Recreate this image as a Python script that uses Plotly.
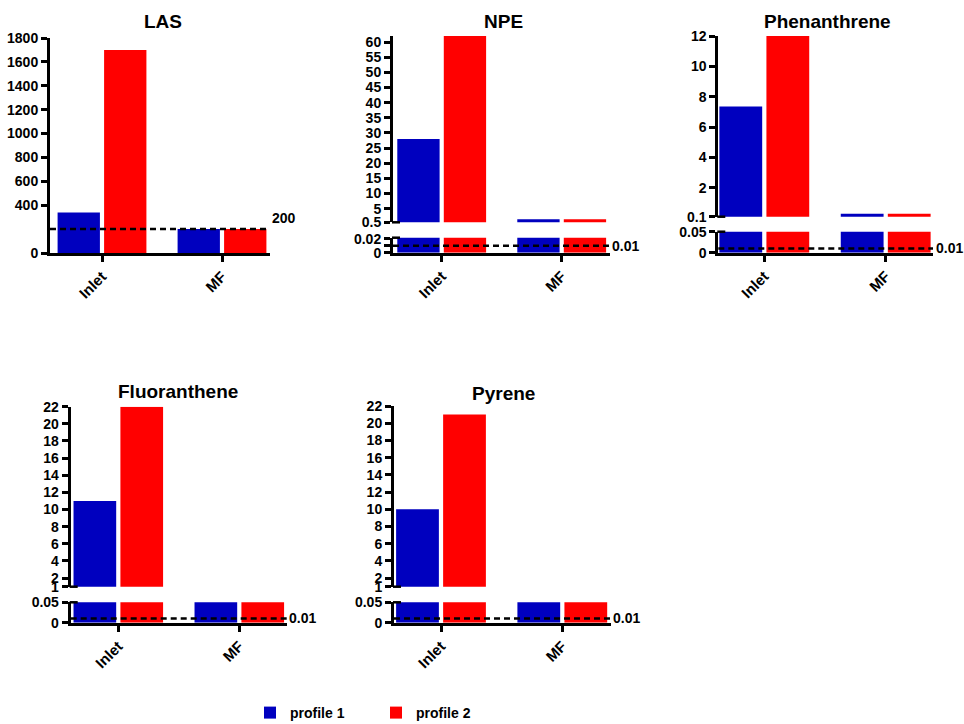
import plotly.graph_objects as go

W, H = 964, 724

# ---------------- data ----------------
categories = ["Inlet", "MF"]
series_names = ["profile 1", "profile 2"]
series_colors = ["#0000BF", "#FF0000"]

las_profile1 = [340, 200]
las_profile2 = [1700, 200]
npe_profile1 = [28, 1.5]
npe_profile2 = [62, 1.5]
phe_profile1 = [7.35, 0.3]
phe_profile2 = [12, 0.3]
flu_profile1 = [11, 0.5]
flu_profile2 = [22, 0.5]
pyr_profile1 = [10, 0.5]
pyr_profile2 = [21, 0.5]

titles = ["LAS", "NPE", "Phenanthrene", "Fluoranthene", "Pyrene"]
thresholds = [200, 0.01, 0.01, 0.01, 0.01]
threshold_labels = ["200", "0.01", "0.01", "0.01", "0.01"]

las_ticks = [0, 400, 600, 800, 1000, 1200, 1400, 1600, 1800]
npe_upper_ticks = [0.5, 5, 10, 15, 20, 25, 30, 35, 40, 45, 50, 55, 60]
npe_lower_ticks = [0, 0.01, 0.02]
npe_lower_labels = ["0", "", "0.02"]
phe_upper_ticks = [0.1, 2, 4, 6, 8, 10, 12]
phe_lower_ticks = [0, 0.05]
flu_upper_ticks = [1, 2, 4, 6, 8, 10, 12, 14, 16, 18, 20, 22]
flu_lower_ticks = [0, 0.05]
pyr_upper_ticks = [1, 2, 4, 6, 8, 10, 12, 14, 16, 18, 20, 22]
pyr_lower_ticks = [0, 0.05]

# ---------------- layout geometry (pixels) ----------------
panels = [
    dict(p1=las_profile1, p2=las_profile2, xl=50, xr=270, xt=(102, 222),
         lower=(38, 253), lower_range=[0, 1800], lower_ticks=las_ticks, lower_text=None,
         upper=None, title_xy=(163, 22), thr_xy=(270, 218)),
    dict(p1=npe_profile1, p2=npe_profile2, xl=393, xr=610, xt=(441.7, 561.7),
         lower=(237.7, 252.7), lower_range=[0, 0.0214], lower_ticks=npe_lower_ticks, lower_text=npe_lower_labels,
         upper=(36, 222.3), upper_range=[0.5, 62], upper_ticks=npe_upper_ticks,
         title_xy=(503, 22), thr_xy=(610, 245.7)),
    dict(p1=phe_profile1, p2=phe_profile2, xl=718.3, xr=933, xt=(764.3, 885.7),
         lower=(231.7, 252.7), lower_range=[0, 0.05], lower_ticks=phe_lower_ticks, lower_text=None,
         upper=(36, 216.7), upper_range=[0.1, 12], upper_ticks=phe_upper_ticks,
         title_xy=(827, 22), thr_xy=(934, 248)),
    dict(p1=flu_profile1, p2=flu_profile2, xl=70.7, xr=287, xt=(118.3, 239.3),
         lower=(602.3, 622.7), lower_range=[0, 0.05], lower_ticks=flu_lower_ticks, lower_text=None,
         upper=(406.7, 586.7), upper_range=[1, 22], upper_ticks=flu_upper_ticks,
         title_xy=(178, 392), thr_xy=(287, 618.3)),
    dict(p1=pyr_profile1, p2=pyr_profile2, xl=394, xr=610.7, xt=(441, 562.3),
         lower=(602.3, 622.7), lower_range=[0, 0.05], lower_ticks=pyr_lower_ticks, lower_text=None,
         upper=(406, 586.7), upper_range=[1, 22], upper_ticks=pyr_upper_ticks,
         title_xy=(503, 393), thr_xy=(610.7, 618.3)),
]

FONT = "Liberation Sans, Arial, sans-serif"
tick_font = dict(family=FONT, size=14, color="black", weight="bold")
xtick_font = dict(family=FONT, size=15, color="black", weight="bold")


def px_x(x):
    return x / W


def px_y(y):
    return 1 - y / H


def ydom(seg):
    top, bottom = seg
    return [px_y(bottom), px_y(top)]


fig = go.Figure()
layout = {}
shapes = []
annotations = []


def axname(prefix, n):
    return prefix + ("" if n == 1 else str(n))


for i, p in enumerate(panels):
    xi = i + 1
    y_low = 2 * i + 1
    y_up = 2 * i + 2
    unit = p["xt"][1] - p["xt"][0]
    xrange_ = [(p["xl"] - p["xt"][0]) / unit, 1 + (p["xr"] - p["xt"][1]) / unit]

    layout[axname("xaxis", xi)] = dict(
        domain=[px_x(p["xl"]), px_x(p["xr"])], anchor=axname("y", y_low),
        type="category", range=xrange_, showline=True, linewidth=3, linecolor="black",
        ticks="outside", ticklen=6, tickwidth=3, tickcolor="black",
        tickangle=-45, tickfont=xtick_font, showgrid=False, zeroline=False, fixedrange=True,
        automargin=False,
    )
    low = dict(
        domain=ydom(p["lower"]), anchor=axname("x", xi), range=p["lower_range"],
        showline=True, linewidth=3, linecolor="black",
        ticks="outside", ticklen=6, tickwidth=2.5, tickcolor="black",
        tickmode="array", tickvals=p["lower_ticks"], tickfont=tick_font,
        showgrid=False, zeroline=False, fixedrange=True, automargin=False,
    )
    if p["lower_text"] is not None:
        low["ticktext"] = p["lower_text"]
    else:
        low["ticktext"] = [f"{v:g}" for v in p["lower_ticks"]]
    layout[axname("yaxis", y_low)] = low

    segments = [y_low]
    if p["upper"] is not None:
        layout[axname("yaxis", y_up)] = dict(
            domain=ydom(p["upper"]), anchor=axname("x", xi), range=p["upper_range"],
            showline=True, linewidth=3, linecolor="black",
            ticks="outside", ticklen=6, tickwidth=2.5, tickcolor="black",
            tickmode="array", tickvals=p["upper_ticks"],
            ticktext=[f"{v:g}" for v in p["upper_ticks"]], tickfont=tick_font,
            showgrid=False, zeroline=False, fixedrange=True, automargin=False,
        )
        segments.append(y_up)
        # break caps
        for yy in (p["upper"][1], p["lower"][0]):
            shapes.append(dict(type="line", xref="paper", yref="paper",
                               x0=px_x(p["xl"] - 1), x1=px_x(p["xl"] + 7),
                               y0=px_y(yy), y1=px_y(yy),
                               line=dict(color="black", width=2.5)))

    for yk in segments:
        for s, (vals, name, col) in enumerate(zip([p["p1"], p["p2"]], series_names, series_colors)):
            fig.add_trace(go.Bar(
                x=categories, y=vals, name=name, marker_color=col, marker_line_width=0,
                xaxis=axname("x", xi), yaxis=axname("y", yk),
                showlegend=(i == 0 and yk == y_low), legendgroup=name,
            ))

    # threshold dashed line
    shapes.append(dict(type="line", xref=axname("x", xi) + " domain", yref=axname("y", y_low),
                       x0=0, x1=1, y0=thresholds[i], y1=thresholds[i],
                       line=dict(color="black", width=2.5, dash="6px,4px")))
    annotations.append(dict(x=px_x(p["thr_xy"][0]), y=px_y(p["thr_xy"][1]), xref="paper", yref="paper",
                            text=threshold_labels[i], showarrow=False, xanchor="left", yanchor="middle",
                            font=dict(family=FONT, size=14, color="black", weight="bold")))
    annotations.append(dict(x=px_x(p["title_xy"][0]), y=px_y(p["title_xy"][1]), xref="paper", yref="paper",
                            text=titles[i], showarrow=False, xanchor="center", yanchor="middle",
                            font=dict(family=FONT, size=19, color="black", weight="bold")))

layout.update(dict(
    width=W, height=H, margin=dict(l=0, r=0, t=0, b=0, autoexpand=False),
    paper_bgcolor="white", plot_bgcolor="white",
    barmode="group", bargap=0.225, bargroupgap=0.09,
    shapes=shapes, annotations=annotations,
    showlegend=True,
    legend=dict(orientation="h", x=px_x(250), y=px_y(713), xanchor="left", yanchor="middle",
                font=dict(family=FONT, size=14, color="black", weight="bold"),
                entrywidth=81, entrywidthmode="pixels",
                itemwidth=30, tracegroupgap=0, bgcolor="rgba(0,0,0,0)"),
))
fig.update_layout(layout)
fig.write_html("out.html")
